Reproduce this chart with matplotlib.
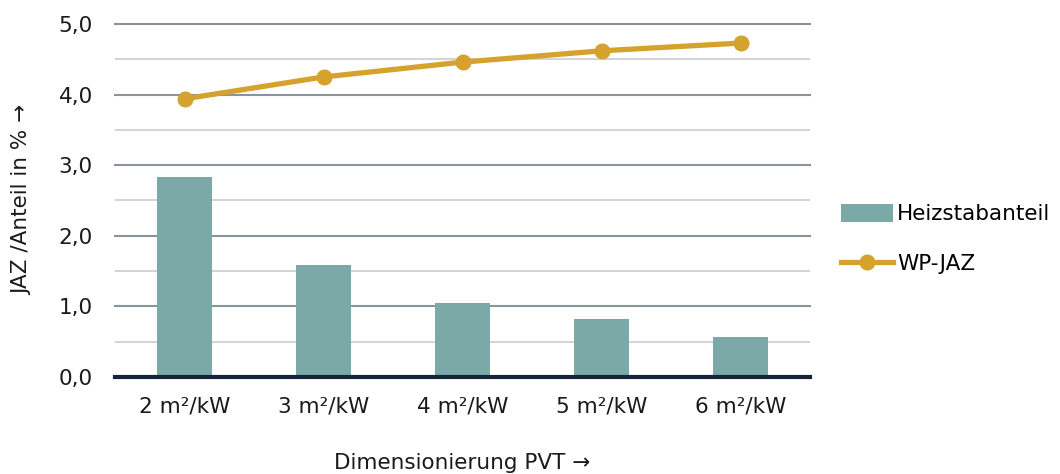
import matplotlib
matplotlib.use("Agg")
import matplotlib.pyplot as plt
from matplotlib.ticker import MultipleLocator, FuncFormatter

categories = ["2 m²/kW", "3 m²/kW", "4 m²/kW", "5 m²/kW", "6 m²/kW"]
heizstab = [2.83, 1.59, 1.05, 0.82, 0.57]
wp_jaz = [3.94, 4.25, 4.46, 4.62, 4.73]

plt.rcParams['font.family'] = ['DejaVu Sans']
FS = 15.5
TXT = "#1a1a1a"

fig = plt.figure(figsize=(10.6, 4.74), dpi=100)
ax = fig.add_axes([115/1060, 1-377/474, (810-115)/1060, (377-24)/474])

x = list(range(len(categories)))
bars = ax.bar(x, heizstab, width=0.4, color="#7BA9A8", label="Heizstabanteil", zorder=3)
line, = ax.plot(x, wp_jaz, color="#D6A22E", lw=3.8, marker="o", ms=10.5, label="WP-JAZ", zorder=4)

ax.set_xlim(-0.5, 4.5)
ax.set_ylim(0, 5)
ax.yaxis.set_major_locator(MultipleLocator(1))
ax.yaxis.set_minor_locator(MultipleLocator(0.5))
ax.yaxis.set_major_formatter(FuncFormatter(lambda v, p: f"{v:.1f}".replace(".", ",")))
ax.grid(which="major", axis="y", color="#8A939C", lw=1.5, zorder=0)
ax.grid(which="minor", axis="y", color="#C9CCD3", lw=1.2, zorder=0)
for gl in ax.get_ygridlines():
    gl.set_clip_on(False)
for s in ["top", "right", "left"]:
    ax.spines[s].set_visible(False)
ax.spines["bottom"].set_color("#16243A")
ax.spines["bottom"].set_linewidth(3)
ax.spines["bottom"].set_zorder(5)
ax.tick_params(axis="both", which="both", length=0, labelsize=FS, colors=TXT)
ax.tick_params(axis="y", pad=16)
ax.tick_params(axis="x", pad=14)
ax.set_xticks(x)
ax.set_xticklabels(categories)

ax.set_xlabel("Dimensionierung PVT →", fontsize=FS, labelpad=26, color=TXT)
fig.text(22/1060, 1-200/474, "JAZ /Anteil in % →", rotation=90, fontsize=FS,
         ha="center", va="center", color=TXT)

leg = ax.legend([bars, line], ["Heizstabanteil", "WP-JAZ"],
                loc="center left", bbox_to_anchor=(822/1060, 1-239/474),
                bbox_transform=fig.transFigure, frameon=False, fontsize=FS,
                handlelength=2.4, handleheight=0.85, handletextpad=0.2, labelspacing=1.35)

fig.savefig("out.png", dpi=100)
